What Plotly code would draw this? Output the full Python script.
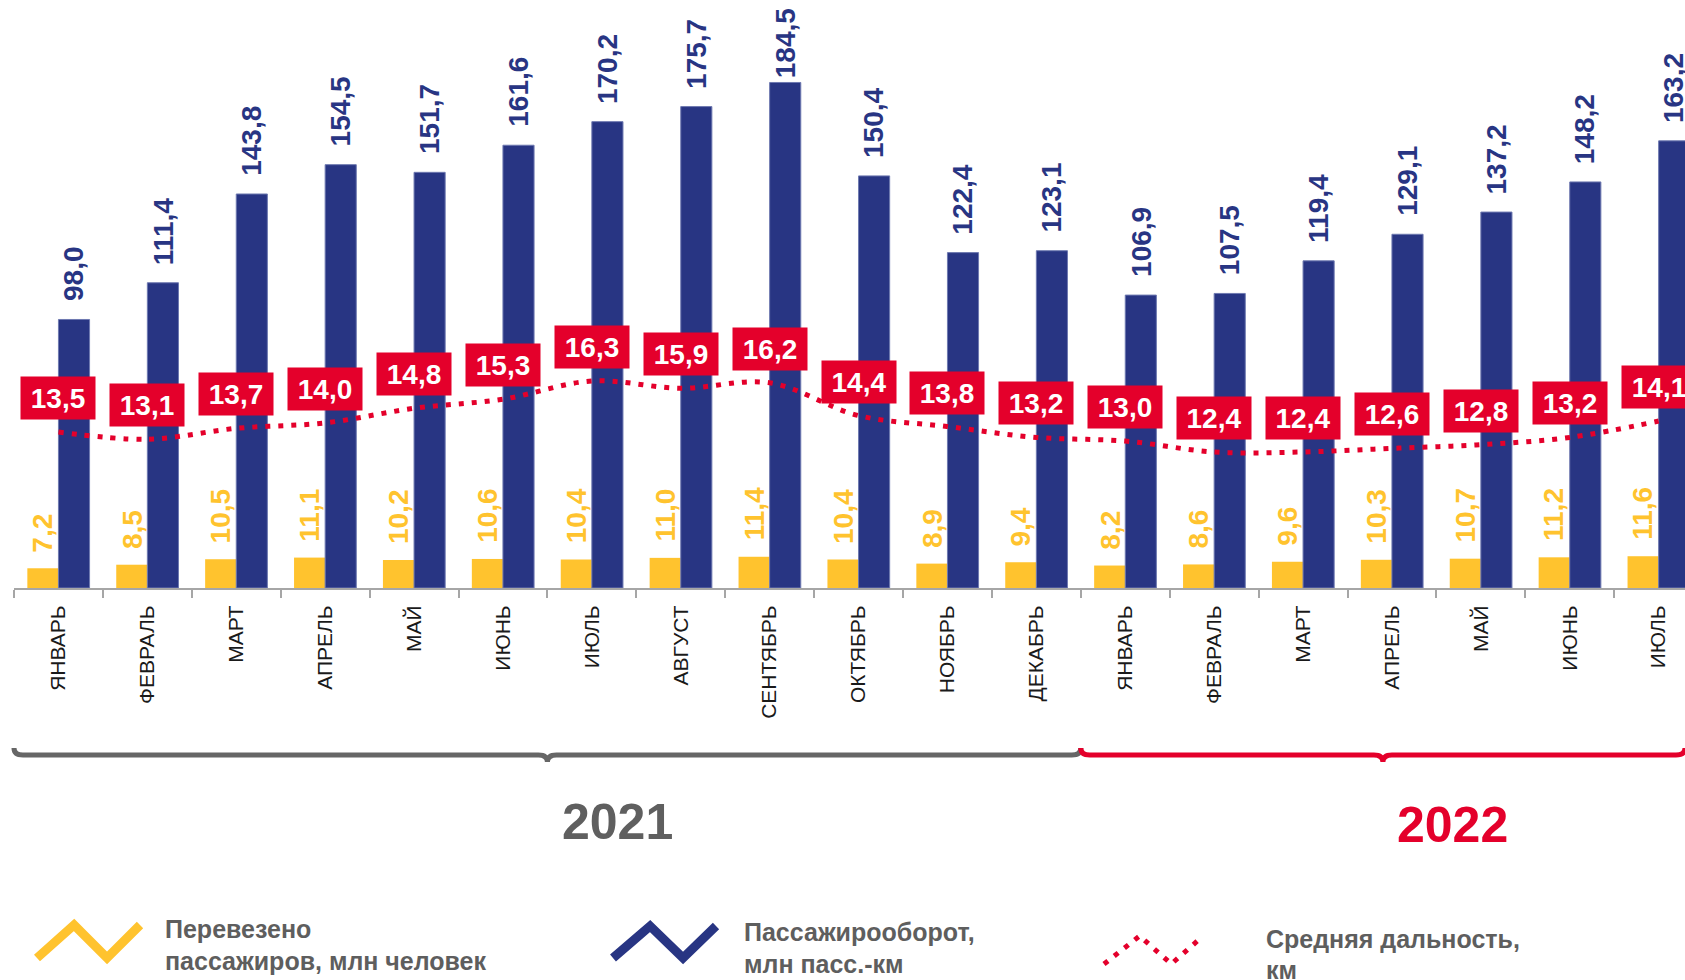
import plotly.graph_objects as go

# ---------------- data ----------------
months = ["ЯНВАРЬ", "ФЕВРАЛЬ", "МАРТ", "АПРЕЛЬ", "МАЙ", "ИЮНЬ", "ИЮЛЬ", "АВГУСТ",
          "СЕНТЯБРЬ", "ОКТЯБРЬ", "НОЯБРЬ", "ДЕКАБРЬ",
          "ЯНВАРЬ", "ФЕВРАЛЬ", "МАРТ", "АПРЕЛЬ", "МАЙ", "ИЮНЬ", "ИЮЛЬ"]
passengers = [7.2, 8.5, 10.5, 11.1, 10.2, 10.6, 10.4, 11.0, 11.4, 10.4, 8.9, 9.4,
              8.2, 8.6, 9.6, 10.3, 10.7, 11.2, 11.6]
turnover = [98.0, 111.4, 143.8, 154.5, 151.7, 161.6, 170.2, 175.7, 184.5, 150.4, 122.4, 123.1,
            106.9, 107.5, 119.4, 129.1, 137.2, 148.2, 163.2]
distance = [13.5, 13.1, 13.7, 14.0, 14.8, 15.3, 16.3, 15.9, 16.2, 14.4, 13.8, 13.2,
            13.0, 12.4, 12.4, 12.6, 12.8, 13.2, 14.1]
years = ["2021", "2022"]
year_months = [12, 7]
legend_lines = [
    ["Перевезено", "пассажиров, млн человек"],
    ["Пассажирооборот,", "млн пасс.-км"],
    ["Средняя дальность,", "км"],
]

# ---------------- style ----------------
YELLOW = "#FFC32E"
BLUE = "#283583"
RED = "#E4002B"
GREY_TXT = "#5E5E5E"
FONT = "Liberation Sans, Arial, sans-serif"

W, H = 1685, 980
L, T = 14, 0
PW, PH = W - L, 588
CAT_PX = 88.9
BARGAP = 0.30
Y_PX = 2.74          # pixels per unit on the bar axis
x0r = -0.5
x1r = x0r + PW / CAT_PX
LABEL_LEN = 70       # approx. rotated label length in px

def fmt(v):
    return f"{v:.1f}".replace(".", ",")

def px(xp):
    return (xp - L) / PW

def py(yp):
    return (T + PH - yp) / PH

def ix(idx):
    return (idx - x0r) / (x1r - x0r)

xs = list(range(len(months)))
bw = (1 - BARGAP) / 2

fig = go.Figure()
fig.add_bar(x=xs, y=passengers, marker=dict(color=YELLOW, line=dict(width=0)),
            name=legend_lines[0][0], hoverinfo="skip")
fig.add_bar(x=xs, y=turnover, marker=dict(color=BLUE, line=dict(width=1, color="#6E79B0")),
            name=legend_lines[1][0], hoverinfo="skip")
fig.add_scatter(x=xs, y=distance, yaxis="y2", mode="lines",
                line=dict(color=RED, width=5, shape="spline", smoothing=1, dash="5px,8px"),
                name=legend_lines[2][0], hoverinfo="skip")

ann = []
for i in xs:
    ann.append(dict(x=i - bw / 2, y=passengers[i], xref="x", yref="y", text=fmt(passengers[i]),
                    textangle=-90, showarrow=False, yanchor="bottom", xanchor="center", yshift=14,
                    font=dict(family=FONT, size=28, color=YELLOW, weight="bold")))
    room = (PH - turnover[i] * Y_PX) - LABEL_LEN - 10
    ann.append(dict(x=i + bw / 2, y=turnover[i], xref="x", yref="y", text=fmt(turnover[i]),
                    textangle=-90, showarrow=False, yanchor="bottom", xanchor="center",
                    yshift=max(0, min(16, room)),
                    font=dict(family=FONT, size=28, color=BLUE, weight="bold")))
    ann.append(dict(x=i, y=distance[i], xref="x", yref="y2", text="<b>" + fmt(distance[i]) + "</b>",
                    showarrow=False, yanchor="middle", xanchor="center", yshift=34,
                    bgcolor=RED, width=74, height=42, borderpad=0,
                    font=dict(family=FONT, size=28, color="white")))

# braces and year labels
shapes = []
brace_colors = ["#666666", RED]
year_pos = [(617, 822), (1452, 825)]
start = -0.5
for k, (yr, n) in enumerate(zip(years, year_months)):
    end = min(start + n, x1r)
    a = ix(start) * PW + L
    b = ix(end) * PW + L
    m = (a + b) / 2
    yb = 755
    r = 9
    d = 7
    pts = [
        f"M {px(a)},{py(yb - d)}",
        f"Q {px(a)},{py(yb)} {px(a + r)},{py(yb)}",
        f"L {px(m - r)},{py(yb)}",
        f"Q {px(m)},{py(yb)} {px(m)},{py(yb + d)}",
        f"Q {px(m)},{py(yb)} {px(m + r)},{py(yb)}",
        f"L {px(b - r)},{py(yb)}",
        f"Q {px(b)},{py(yb)} {px(b)},{py(yb - d)}",
    ]
    shapes.append(dict(type="path", xref="paper", yref="paper", path=" ".join(pts),
                       line=dict(color=brace_colors[k], width=5), layer="above"))
    ann.append(dict(x=px(year_pos[k][0]), y=py(year_pos[k][1]), xref="paper", yref="paper",
                    text=yr, showarrow=False, xanchor="center", yanchor="middle",
                    font=dict(family=FONT, size=50, color=brace_colors[k] if k else "#5F5F5F",
                              weight="bold")))
    start += n

# legend (drawn manually: zigzag icons + two-line labels)
icon_boxes = [(37, 925, 140, 958), (613, 926, 716, 958), (1104, 936, 1203, 964)]
icon_styles = [dict(color=YELLOW, width=9), dict(color=BLUE, width=9),
               dict(color=RED, width=5, dash="5px,8px")]
text_pos = [(163, 929, 961), (742, 932, 964), (1264, 939, 970)]
for k in range(3):
    x0, y0, x1, y1 = icon_boxes[k]
    w = x1 - x0
    zz = [(x0, y1), (x0 + 0.36 * w, y0), (x0 + 0.68 * w, y1), (x1, y0)]
    path = "M " + " L ".join(f"{px(a)},{py(b)}" for a, b in zz)
    shapes.append(dict(type="path", xref="paper", yref="paper", path=path,
                       line=icon_styles[k], layer="above"))
    tx, ty1, ty2 = text_pos[k]
    for line, ty in zip(legend_lines[k], (ty1, ty2)):
        ann.append(dict(x=px(tx), y=py(ty), xref="paper", yref="paper", text=line,
                        showarrow=False, xanchor="left", yanchor="middle",
                        font=dict(family=FONT, size=25, color=GREY_TXT, weight="bold")))

fig.update_layout(
    width=W, height=H,
    margin=dict(l=L, r=W - L - PW, t=T, b=H - T - PH, pad=0),
    paper_bgcolor="white", plot_bgcolor="white",
    barmode="group", bargap=BARGAP, bargroupgap=0,
    showlegend=False,
    font=dict(family=FONT),
    xaxis=dict(range=[x0r, x1r], tickmode="array", tickvals=xs, ticktext=months,
               tickangle=-90, ticks="", ticklabelstandoff=7,
               tickfont=dict(family=FONT, size=21, color="#1A1A1A"),
               showline=True, linecolor="#A6A6A6", linewidth=2,
               showgrid=False, zeroline=False,
               minor=dict(tickmode="array", tickvals=[i - 0.5 for i in xs] + [len(xs) - 0.5],
                          ticks="outside", ticklen=8, tickwidth=2, tickcolor="#A6A6A6",
                          showgrid=False)),
    yaxis=dict(range=[0, PH / Y_PX], showgrid=False, zeroline=False, showticklabels=False,
               ticks=""),
    yaxis2=dict(range=[16.3 - (PH - 381) / 18.2, 16.3 + 381 / 18.2], overlaying="y",
                side="right", showgrid=False, zeroline=False, showticklabels=False, ticks=""),
    annotations=ann,
    shapes=shapes,
)

fig.write_html("out.html", config={"displayModeBar": False},
               post_script="document.body.style.margin='0';document.body.style.overflow='hidden';")
